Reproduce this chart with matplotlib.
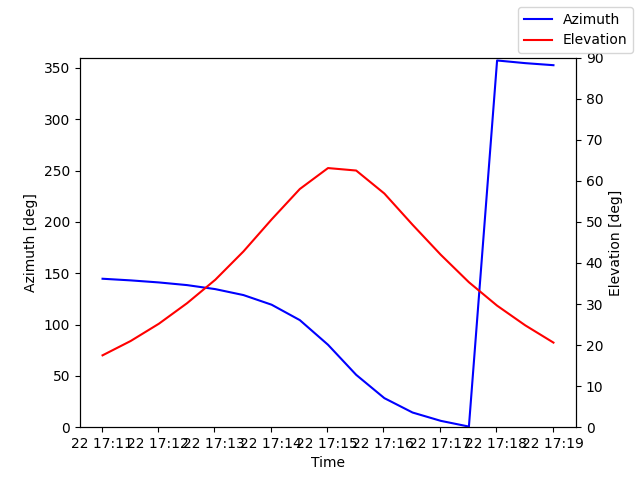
import datetime as dt
import matplotlib
matplotlib.use("Agg")
import matplotlib.pyplot as plt

t0 = dt.datetime(2023, 5, 22, 17, 11, 1)
times = [t0 + dt.timedelta(seconds=30 * i) for i in range(17)]
azimuth = [144.6, 143.0, 141.0, 138.4, 134.5, 128.7, 119.3, 104.3, 80.3, 51.0,
           28.3, 14.3, 6.2, 0.6, 357.2, 354.6, 352.6]
elevation = [17.5, 21.0, 25.2, 30.2, 35.9, 42.8, 50.6, 58.0, 63.1, 62.5,
             56.9, 49.3, 42.0, 35.3, 29.6, 24.8, 20.6]

fig, ax1 = plt.subplots(figsize=(6.4, 4.8), dpi=100)
ax1.plot(times, azimuth, color="blue", label="Azimuth")
ax1.set_xlabel("Time")
ax1.set_ylabel("Azimuth [deg]")
ax1.set_ylim(0, 360)

ax2 = ax1.twinx()
ax2.plot(times, elevation, color="red", label="Elevation")
ax2.set_ylabel("Elevation [deg]")
ax2.set_ylim(0, 90)

fig.legend(loc="upper right")
fig.savefig("out.png")
